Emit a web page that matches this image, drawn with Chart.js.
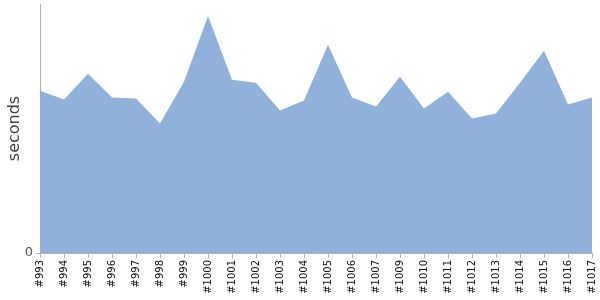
<!DOCTYPE html>
<html>
<head>
<meta charset="utf-8">
<script src="https://cdn.jsdelivr.net/npm/chart.js@4"></script>
<style>
  html, body { margin: 0; padding: 0; background: #fff; }
  #wrap { width: 600px; height: 300px; }
</style>
</head>
<body>
<div id="wrap"><canvas id="chart" width="600" height="300"></canvas></div>
<script>
const builds = [
  "#993", "#994", "#995", "#996", "#997", "#998", "#999", "#1000",
  "#1001", "#1002", "#1003", "#1004", "#1005", "#1006", "#1007", "#1009",
  "#1010", "#1011", "#1012", "#1013", "#1014", "#1015", "#1016", "#1017",
];
const seconds = [
  16.3, 15.4, 18.0, 15.6, 15.5, 13.0, 17.2, 23.8,
  17.4, 17.1, 14.3, 15.3, 20.9, 15.6, 14.7, 17.7,
  14.5, 16.2, 13.5, 14.0, 17.1, 20.3, 14.9, 15.6,
];
const yTicks = [0];

const axisGrey = "#b0b0b0";

new Chart(document.getElementById("chart"), {
  type: "line",
  data: {
    labels: builds,
    datasets: [
      {
        label: "seconds",
        data: seconds,
        fill: "origin",
        backgroundColor: "#8fb1da",
        borderWidth: 0,
        pointRadius: 0,
        tension: 0,
      },
    ],
  },
  options: {
    responsive: false,
    animation: false,
    layout: { padding: { top: 4, right: 8, left: 0, bottom: 0 } },
    plugins: {
      legend: { display: false },
      tooltip: { enabled: false },
    },
    scales: {
      x: {
        offset: false,
        grid: {
          display: true,
          drawOnChartArea: false,
          tickLength: 5,
          color: axisGrey,
        },
        border: { color: axisGrey },
        ticks: {
          autoSkip: false,
          minRotation: 90,
          maxRotation: 90,
          padding: 2,
          color: "#111",
          font: { family: "DejaVu Sans", size: 10 },
        },
        afterFit: (scale) => {
          scale.height = 47;
          scale.paddingLeft = 0;
          scale.paddingRight = 0;
        },
      },
      y: {
        min: 0,
        max: 25,
        grid: {
          display: true,
          drawOnChartArea: false,
          tickLength: 4,
          color: axisGrey,
        },
        border: { color: axisGrey },
        afterBuildTicks: (scale) => {
          scale.ticks = yTicks.map((v) => ({ value: v }));
        },
        ticks: {
          padding: 3,
          color: "#555",
          font: { family: "DejaVu Sans", size: 13 },
        },
        title: {
          display: true,
          text: "seconds",
          color: "#444",
          padding: { top: 5, bottom: 0 },
          font: { family: "DejaVu Sans", size: 16 },
        },
        afterFit: (scale) => {
          scale.width = 40;
          scale.paddingTop = 0;
          scale.paddingBottom = 0;
        },
      },
    },
  },
});
</script>
</body>
</html>
